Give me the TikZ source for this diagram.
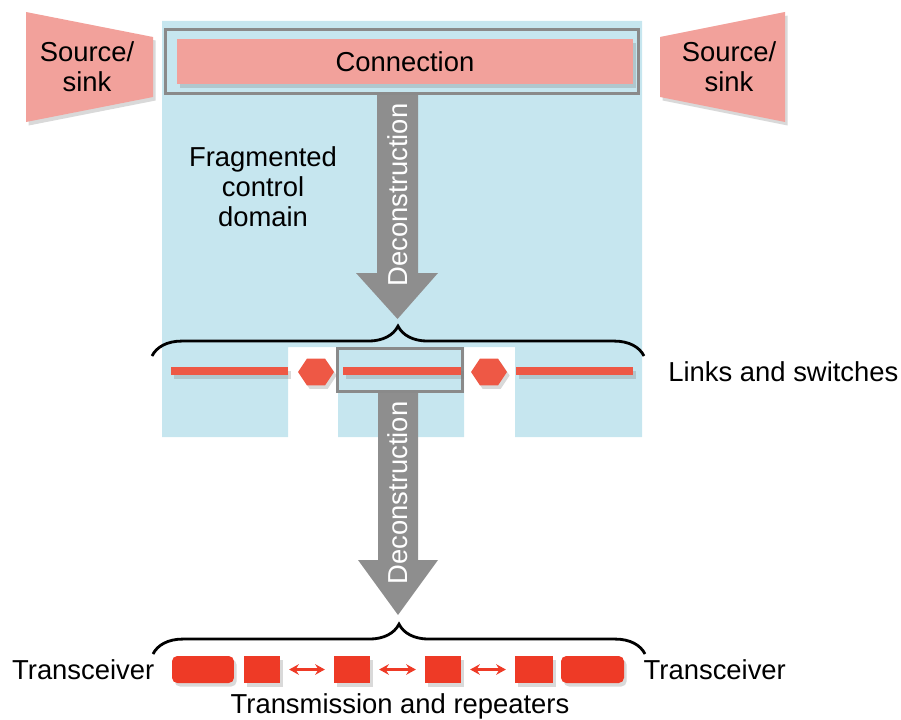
\documentclass[tikz,border=0pt]{standalone}
\usepackage{fontspec}
\setmainfont{Liberation Sans}
\usetikzlibrary{calc, shapes.geometric, decorations.pathreplacing, shadows, arrows.meta}

\definecolor{domblue}{HTML}{C6E6EF}
\definecolor{conpink}{HTML}{F2A19B}
\definecolor{linkred}{HTML}{EE5845}
\definecolor{blkred}{HTML}{EE3A26}
\definecolor{decgray}{HTML}{8E8E8E}
\definecolor{frmgray}{HTML}{8A8A8A}

\begin{document}
\begin{tikzpicture}[x=0.02cm, y=-0.02cm,
    lbl/.style={font=\fontsize{15.6}{17}\selectfont, align=center, inner sep=0pt},
    shd/.style={drop shadow={shadow xshift=1.5pt, shadow yshift=-2pt, opacity=.3}},
    frm/.style={draw=frmgray, line width=1.7pt},
    lnk/.style={fill=linkred, minimum height=0.16cm, inner sep=0pt, shd},
    sw/.style={regular polygon, regular polygon sides=6, fill=linkred, minimum size=0.62cm, inner sep=0pt, xscale=1.16, shd},
    blk/.style={fill=blkred, minimum width=0.72cm, minimum height=0.54cm, inner sep=0pt, shd},
    hop/.style={{Stealth[length=5.5pt, width=6pt]}-{Stealth[length=5.5pt, width=6pt]}, blkred, line width=1.2pt, shorten <=5pt, shorten >=5pt},
    brc/.style={decorate, decoration={brace, amplitude=17pt}, line width=1.6pt},
    decon/.style={fill=decgray},
    dtext/.style={lbl, text=white, rotate=90}]
    \useasboundingbox (0,0) rectangle (901,719);

    \fill[domblue] (162,21) -- (642,21) -- (642,437) -- (515,437) -- (515,347) -- (464,347)
        -- (464,437) -- (338,437) -- (338,347) -- (288,347) -- (288,437) -- (162,437) -- cycle;

    \fill[conpink, shd] (26,12) -- (153,37) -- (153,97) -- (26,122) -- cycle;
    \fill[conpink, shd] (660,37) -- (785,12) -- (785,122) -- (660,97) -- cycle;
    \node[lbl] (srcl) at (87,67) {Source/\\sink};
    \node[lbl] (srcr) at (729,67) {Source/\\sink};

    \node[frm, minimum width=9.46cm, minimum height=1.28cm] (connfrm) at (402,61.5) {};
    \node[fill=conpink, minimum width=9.12cm, minimum height=0.9cm, shd, lbl] (conn) at (405,61.5) {Connection};

    \node[lbl] (frag) at (263,187) {Fragmented\\control\\domain};

    \fill[decon] (377,95) -- (418,95) -- (418,273) -- (438,273) -- (397.5,319) -- (356,273) -- (377,273) -- cycle;
    \node[dtext] (dec1) at (397.5,195) {Deconstruction};

    \draw[brc] (152,356) -- (644,356);

    \node[frm, minimum width=2.5cm, minimum height=0.86cm] (midfrm) at (400,370) {};
    \node[lnk, minimum width=2.34cm] (linkl) at (229.5,371) {};
    \node[lnk, minimum width=2.36cm] (linkm) at (402,371) {};
    \node[lnk, minimum width=2.34cm] (linkr) at (574.5,371) {};
    \node[sw] (sw1) at (316,372) {};
    \node[sw] (sw2) at (489,372) {};
    \node[lbl, anchor=west] (links) at (668,372) {Links and switches};

    \fill[decon] (378,393) -- (418,393) -- (418,560) -- (438,560) -- (398,615) -- (358,560) -- (378,560) -- cycle;
    \node[dtext] (dec2) at (398,493) {Deconstruction};

    \draw[brc] (153,654) -- (645,654);

    \node[blk, rounded corners=3pt, minimum width=1.24cm] (trxl) at (203,669.5) {};
    \node[blk] (rep1) at (262,669.5) {};
    \node[blk] (rep2) at (352,669.5) {};
    \node[blk] (rep3) at (443,669.5) {};
    \node[blk, minimum width=0.76cm] (rep4) at (534,669.5) {};
    \node[blk, rounded corners=3pt, minimum width=1.26cm] (trxr) at (592.5,669.5) {};
    \draw[hop] (rep1) -- (rep2);
    \draw[hop] (rep2) -- (rep3);
    \draw[hop] (rep3) -- (rep4);
    \node[lbl, anchor=east] (tlbl) at ($(trxl.west) + (-17, 0)$) {Transceiver};
    \node[lbl, anchor=west] (trlbl) at ($(trxr.east) + (19, 0)$) {Transceiver};
    \node[lbl] (trans) at (400,706) {Transmission and repeaters};
  \end{tikzpicture}
\end{document}
